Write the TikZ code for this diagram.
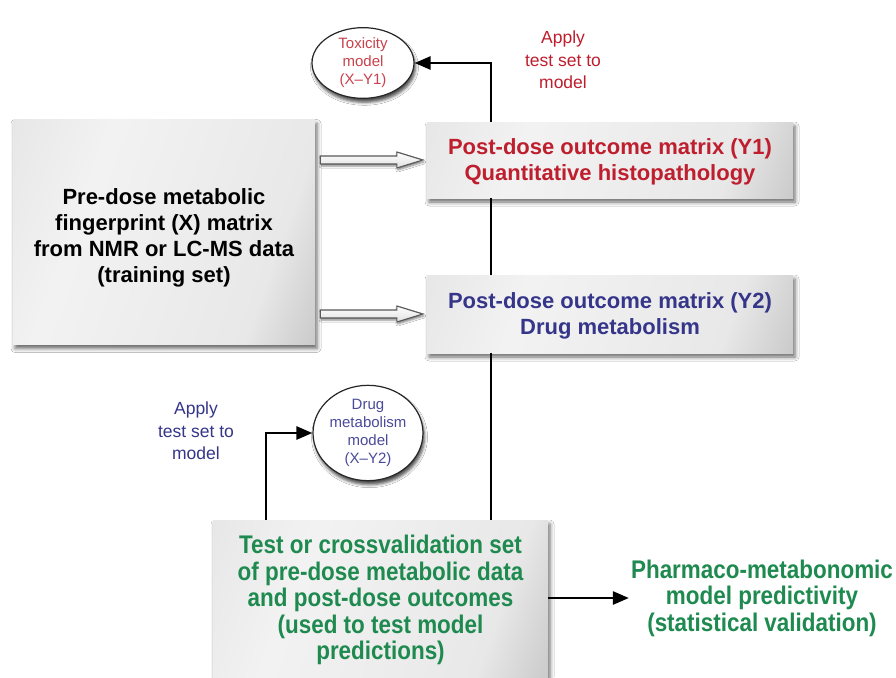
\documentclass[tikz,border=0pt]{standalone}
\usepackage{fontspec}
\setmainfont{Liberation Sans}
\newfontfamily\condfont[FakeStretch=0.88]{Liberation Sans}
\usetikzlibrary{shapes.geometric,arrows.meta,calc,shadows.blur}
\definecolor{tred}{HTML}{BE1E2D}
\definecolor{tblue}{HTML}{35358A}
\definecolor{tgreen}{HTML}{1E8A4F}
\definecolor{ered}{HTML}{C8414B}
\definecolor{eblue}{HTML}{4A4A9A}
\pgfdeclarehorizontalshading{boxshade}{100bp}{color(0bp)=(black!14); color(35bp)=(black!5); color(70bp)=(black!9); color(100bp)=(black!38)}
\begin{document}
\begin{tikzpicture}[x=1pt,y=-1pt,
  box/.style={shading=boxshade, shading angle=-20, align=center, inner sep=4pt,
    blur shadow={shadow xshift=2pt, shadow yshift=-4pt, shadow blur radius=4pt, shadow opacity=60}},
  bigtxt/.style={font=\fontsize{22}{26}\selectfont\bfseries},
  greentxt/.style={font=\condfont\fontsize{25.5}{26.5}\selectfont\bfseries, text=tgreen},
  model/.style={ellipse, draw=black!85, line width=1.2pt, fill=white, align=center, inner sep=0pt,
    blur shadow={shadow xshift=1.5pt, shadow yshift=-4pt, shadow blur radius=3pt, shadow opacity=70}},
  smalltxt/.style={font=\fontsize{15}{18}\selectfont},
  applytxt/.style={font=\fontsize{17.5}{22.5}\selectfont, align=center},
  plainline/.style={line width=2.6pt, black},
  conn/.style={line width=2.6pt, black, -{Triangle[length=16pt,width=13pt]}},
  hollow/.style={draw=black!65, line width=1.1pt, top color=white, bottom color=black!12,
    blur shadow={shadow xshift=1pt, shadow yshift=-2pt, shadow blur radius=2pt, shadow opacity=50}}
]
\useasboundingbox (0,0) rectangle (896,677);
\fill[white] (0,0) rectangle (896,677);

% boxes
\node[box, bigtxt, minimum width=302pt, minimum height=225pt] (X) at (164,232)
  {\rule{0pt}{28pt}Pre-dose metabolic\\fingerprint (X) matrix\\from NMR or LC-MS data\\(training set)};
\node[box, bigtxt, text=tred, minimum width=366pt, minimum height=76pt] (Y1) at (610,160)
  {\rule{0pt}{19pt}Post-dose outcome matrix (Y1)\\Quantitative histopathology};
\node[box, bigtxt, text=tblue, minimum width=366pt, minimum height=78pt] (Y2) at (610,314)
  {\rule{0pt}{19pt}Post-dose outcome matrix (Y2)\\Drug metabolism};
\node[box, greentxt, minimum width=335pt, minimum height=160pt] (test) at (380.5,600)
  {Test or crossvalidation set\\of pre-dose metabolic data\\and post-dose outcomes\\(used to test model\\predictions)};
\node[greentxt, align=center, inner sep=2pt] (pharm) at (762,598)
  {Pharmaco-metabonomic\\model predictivity\\(statistical validation)};

% model ellipses
\node[model, smalltxt, text=ered, minimum width=102pt, minimum height=70pt] (tox) at (363,63)
  {Toxicity\\model\\(X--Y1)};
\node[model, smalltxt, text=eblue, minimum width=110pt, minimum height=90pt] (drug) at (368,433)
  {Drug\\metabolism\\model\\(X--Y2)};

% labels
\node[applytxt, text=tred] (apply1) at (563,60) {Apply\\test set to\\model};
\node[applytxt, text=tblue] (apply2) at (196,431) {Apply\\test set to\\model};

% connectors
\coordinate (v0) at ([xshift=110.5pt]test.north);
\coordinate (w0) at ([xshift=-114.5pt]test.north);
\draw[plainline] (v0) -- (v0 |- Y2.south);
\draw[plainline] (v0 |- Y2.north) -- (v0 |- Y1.south);
\draw[conn] (v0 |- Y1.north) |- (tox.east);
\draw[conn] (w0) |- (drug.west);
\draw[conn] (test.east |- pharm.west) -- (pharm.west);

% hollow arrows
\path (X.east |- Y1.west) coordinate (a1) (Y1.west) coordinate (b1)
      (X.east |- Y2.west) coordinate (a2) (Y2.west) coordinate (b2);
\draw[hollow] ($(a1)+(5,-4)$) -- ($(b1)+(-30,-4)$) -- ($(b1)+(-30,-8)$) -- ($(b1)+(-4,0)$)
  -- ($(b1)+(-30,8)$) -- ($(b1)+(-30,4)$) -- ($(a1)+(5,4)$) -- cycle;
\draw[hollow] ($(a2)+(5,-4)$) -- ($(b2)+(-30,-4)$) -- ($(b2)+(-30,-8)$) -- ($(b2)+(-4,0)$)
  -- ($(b2)+(-30,8)$) -- ($(b2)+(-30,4)$) -- ($(a2)+(5,4)$) -- cycle;
\end{tikzpicture}
\end{document}
